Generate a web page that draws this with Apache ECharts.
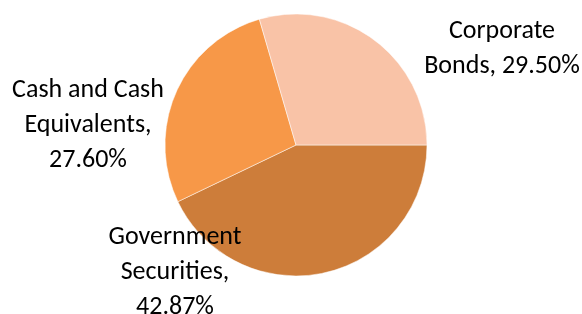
<!DOCTYPE html>
<html><head><meta charset="utf-8">
<script src="https://cdn.jsdelivr.net/npm/echarts@6/dist/echarts.min.js"></script>
<style>html,body{margin:0;padding:0;background:#fff}#c{width:582px;height:314px}</style>
</head><body><div id="c"></div>
<script>
var categories = ['Government Securities', 'Cash and Cash Equivalents', 'Corporate Bonds'];
var labelLines = [['Government', 'Securities,'], ['Cash and Cash', 'Equivalents,'], ['Corporate', 'Bonds,']];
var values = [42.87, 27.60, 29.50];
var colors = ['#CD7D3A', '#F79848', '#F9C3A7'];
var labelPos = [[175, 272], [88, 125], [502, 49]];

var chart = echarts.init(document.getElementById('c'), null, {renderer: 'canvas'});
chart.setOption({
  animation: false,
  series: [{
    type: 'pie',
    center: [296, 145],
    radius: 131,
    startAngle: 0,
    clockwise: true,
    data: categories.map(function (c, i) {
      return {name: c, value: values[i], itemStyle: {color: colors[i]}};
    }),
    itemStyle: {borderColor: '#fff', borderWidth: 0.5},
    label: {
      show: true,
      position: 'outside',
      color: '#000',
      fontFamily: 'Carlito, Calibri, Lato, sans-serif',
      fontSize: 26,
      lineHeight: 35,
      align: 'center',
      overflow: 'none',
      width: 300,
      formatter: function (p) {
        var l = labelLines[p.dataIndex];
        if (p.dataIndex === 2) return l[0] + '\n' + l[1] + ' ' + values[p.dataIndex].toFixed(2) + '%';
        return l[0] + '\n' + l[1] + '\n' + values[p.dataIndex].toFixed(2) + '%';
      }
    },
    labelLine: {show: false},
    labelLayout: function (p) {
      var pos = labelPos[p.dataIndex];
      return {x: pos[0], y: pos[1], align: 'center', verticalAlign: 'middle'};
    }
  }]
});
</script></body></html>
